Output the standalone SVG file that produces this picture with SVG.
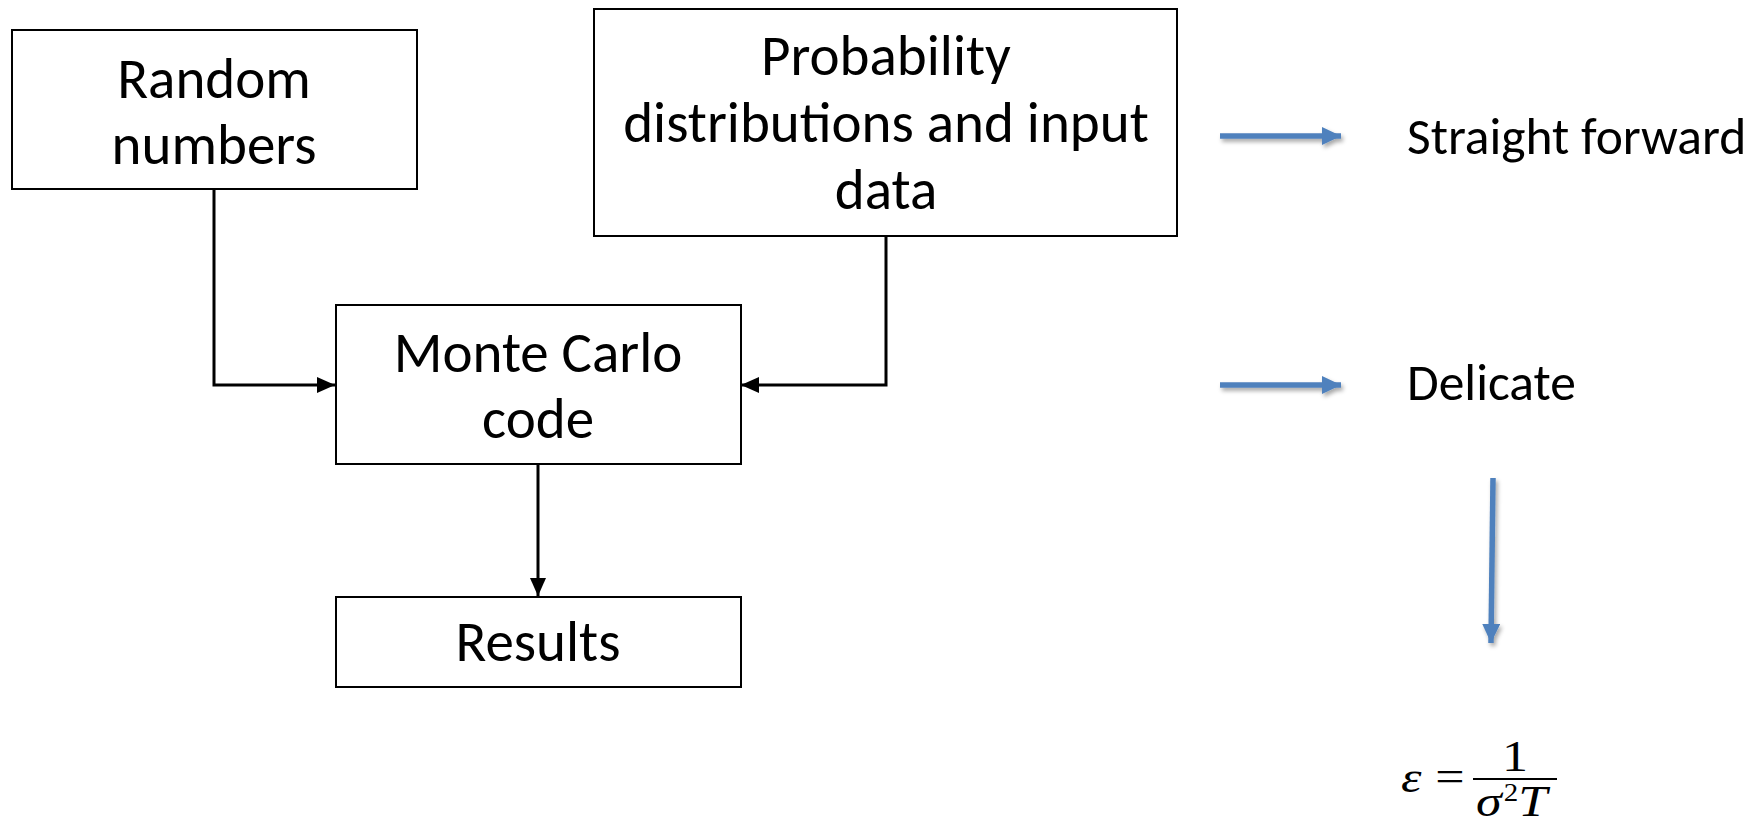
<svg xmlns="http://www.w3.org/2000/svg" width="1764" height="827" viewBox="0 0 1764 827">
  <style>
    .box { fill: #ffffff; stroke: #000000; stroke-width: 2; }
    .lbl { font-family: Carlito, Lato, "Liberation Sans", sans-serif; font-size: 57px; fill: #000000; text-anchor: middle; }
    .side { font-family: Carlito, Lato, "Liberation Sans", sans-serif; font-size: 51.5px; fill: #000000; }
    .conn { fill: none; stroke: #000000; stroke-width: 3; }
    .blue { fill: none; stroke: #4F81BD; stroke-width: 5.5; }
    .math { font-family: "Liberation Serif", "Times New Roman", serif; font-size: 52px; fill: #000000; }
  </style>
  <defs>
    <marker id="ah" markerUnits="userSpaceOnUse" markerWidth="18" markerHeight="16" refX="18" refY="8" orient="auto">
      <path d="M0,0 L18,8 L0,16 z" fill="#000000"/>
    </marker>
    <marker id="bh" markerUnits="userSpaceOnUse" markerWidth="19" markerHeight="18" refX="19" refY="9" orient="auto">
      <path d="M0,0 L19,9 L0,18 z" fill="#4F81BD"/>
    </marker>
    <filter id="sh" x="-20%" y="-50%" width="140%" height="300%">
      <feDropShadow dx="2" dy="3" stdDeviation="2" flood-color="#000000" flood-opacity="0.35"/>
    </filter>
  </defs>

  <g id="connectors">
    <path class="conn" d="M214,189 L214,385 L335,385" marker-end="url(#ah)"/>
    <path class="conn" d="M886,236 L886,385 L741,385" marker-end="url(#ah)"/>
    <path class="conn" d="M538,464 L538,596" marker-end="url(#ah)"/>
    <g filter="url(#sh)">
      <path class="blue" d="M1220,136 L1341,136" marker-end="url(#bh)"/>
      <path class="blue" d="M1220,385 L1341,385" marker-end="url(#bh)"/>
      <path class="blue" d="M1493,478 L1491,643" marker-end="url(#bh)"/>
    </g>
  </g>

  <g id="random-numbers">
    <rect class="box" x="12" y="30" width="405" height="159"/>
    <text class="lbl" x="214" y="98">Random</text>
    <text class="lbl" x="214" y="164">numbers</text>
  </g>

  <g id="probability">
    <rect class="box" x="594" y="9" width="583" height="227"/>
    <text class="lbl" x="886" y="75">Probability</text>
    <text class="lbl" x="886" y="142">distributions and input</text>
    <text class="lbl" x="886" y="209">data</text>
  </g>

  <g id="monte-carlo">
    <rect class="box" x="336" y="305" width="405" height="159"/>
    <text class="lbl" x="538" y="372">Monte Carlo</text>
    <text class="lbl" x="538" y="438">code</text>
  </g>

  <g id="results">
    <rect class="box" x="336" y="597" width="405" height="90"/>
    <text class="lbl" x="538" y="661">Results</text>
  </g>

  <g id="straight-forward">
    <text class="side" x="1407" y="154">Straight forward</text>
  </g>

  <g id="delicate">
    <text class="side" x="1407" y="400">Delicate</text>
  </g>

  <g id="formula" transform="translate(0,779) scale(1,0.85)">
    <text class="math" x="1401" y="15" font-style="italic">ε</text>
    <text class="math" x="1450" y="14" text-anchor="middle">=</text>
    <line x1="1473" y1="0" x2="1557" y2="0" stroke="#000000" stroke-width="2.5"/>
    <text class="math" x="1515" y="-9" text-anchor="middle" font-size="44">1</text>
    <text class="math" x="1476" y="44" font-size="49"><tspan font-style="italic">σ</tspan><tspan dx="2" dy="-18" font-size="29">2</tspan><tspan dy="18" font-style="italic">T</tspan></text>
  </g>
</svg>
